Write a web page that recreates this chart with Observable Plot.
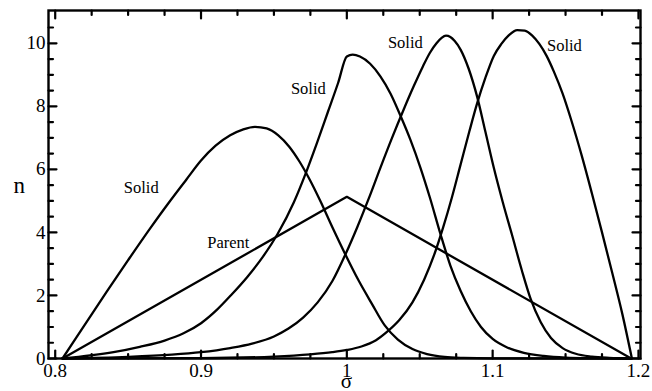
<!DOCTYPE html>
<html>
<head>
<meta charset="utf-8">
<script src="https://cdn.jsdelivr.net/npm/d3@7"></script>
<script src="https://cdn.jsdelivr.net/npm/@observablehq/plot@0.6"></script>
<style>
  html, body { margin: 0; padding: 0; background: #fff; }
</style>
</head>
<body>
<div id="chart"></div>
<script>
// ---- Data ----
const parentSigma = [0.805, 1.0, 1.195];
const parentN     = [0, 5.128, 0];

const solid1Sigma = [0.805,0.82,0.835,0.85,0.865,0.878,0.89,0.9,0.91,0.92,0.929,0.937,0.945,0.953,0.9605,0.9675,0.9745,0.982,0.99,0.999,1.008,1.017,1.026,1.035,1.045,1.055,1.067,1.08,1.1,1.195];
const solid1N     = [0,1.05,2.1,3.12,4.12,4.95,5.68,6.28,6.75,7.08,7.27,7.35,7.3,7.08,6.72,6.25,5.68,4.98,4.17,3.3,2.48,1.75,1.05,0.6,0.3,0.14,0.05,0.02,0.005,0];

const solid2Sigma = [0.805,0.84,0.858,0.875,0.888,0.9,0.911,0.921,0.9316,0.942,0.9525,0.9636,0.9716,0.9796,0.987,0.994,1.0,1.004,1.009,1.016,1.023,1.03,1.0368,1.0435,1.0505,1.057,1.0642,1.071,1.078,1.085,1.092,1.1,1.11,1.1214,1.135,1.15,1.17,1.195];
const solid2N     = [0,0.2,0.37,0.57,0.8,1.12,1.55,2.03,2.58,3.2,3.95,4.95,5.85,6.85,7.82,8.74,9.58,9.64,9.58,9.35,8.95,8.4,7.7,6.95,6.05,5.1,3.95,2.95,2.15,1.5,1.0,0.62,0.35,0.18,0.08,0.03,0.01,0];

const solid3Sigma = [0.805,0.85,0.88,0.9,0.92,0.935,0.95,0.96,0.97,0.98,0.99,0.999,1.007,1.015,1.023,1.031,1.039,1.046,1.052,1.057,1.0615,1.065,1.068,1.071,1.074,1.078,1.0835,1.0894,1.095,1.1008,1.107,1.1134,1.12,1.126,1.133,1.14,1.148,1.157,1.168,1.18,1.195];
const solid3N     = [0,0.05,0.12,0.2,0.33,0.47,0.7,0.95,1.3,1.78,2.45,3.3,4.15,5.07,6.05,7.0,7.9,8.65,9.25,9.7,10.0,10.17,10.24,10.2,10.07,9.8,9.2,8.3,7.2,6.05,4.95,3.9,2.8,1.9,1.15,0.65,0.33,0.15,0.06,0.02,0];

const solid4Sigma = [0.805,0.9,0.95,0.975,0.99,1.0,1.01,1.02,1.0277,1.036,1.045,1.053,1.06,1.066,1.072,1.078,1.084,1.0894,1.095,1.1008,1.106,1.111,1.1169,1.122,1.127,1.132,1.137,1.142,1.148,1.154,1.161,1.168,1.175,1.182,1.189,1.1955];
const solid4N     = [0,0.01,0.06,0.13,0.2,0.27,0.38,0.58,0.85,1.22,1.78,2.5,3.3,4.15,5.1,6.15,7.2,8.1,8.9,9.6,9.98,10.25,10.42,10.4,10.25,9.98,9.6,9.1,8.4,7.55,6.45,5.25,4.0,2.72,1.4,0];

const labelText  = ["Solid", "Parent", "Solid", "Solid", "Solid"];
const labelSigma = [0.859, 0.9187, 0.9736, 1.0401, 1.1492];
const labelN     = [5.42, 3.68, 8.56, 10.02, 9.93];

const xMajorTicks  = [0.8, 0.9, 1.0, 1.1, 1.2];
const xMajorLabels = ["0.8", "0.9", "1", "1.1", "1.2"];
const xMinorTicks  = [0.825,0.85,0.875,0.925,0.95,0.975,1.025,1.05,1.075,1.125,1.15,1.175];
const yMajorTicks  = [0, 2, 4, 6, 8, 10];
const yMajorLabels = ["0", "2", "4", "6", "8", "10"];
const yMinorTicks  = [0.5,1,1.5,2.5,3,3.5,4.5,5,5.5,6.5,7,7.5,8.5,9,9.5,10.5];

const xDomain = [0.7954, 1.2014];
const yDomain = [0, 11.04];

// ---- Layout ----
const W = 652, H = 391, mL = 48, mR = 12, mT = 10, mB = 33;
const frameW = W - mL - mR, frameH = H - mT - mB;
const majorLen = 8, minorLen = 4.5;
const pxX = (xDomain[1] - xDomain[0]) / frameW;
const pxY = (yDomain[1] - yDomain[0]) / frameH;

// ---- Build tables ----
const toRows = (name, xs, ys) => xs.map((s, i) => ({curve: name, sigma: s, n: ys[i]}));
const curves = [
  toRows("Parent", parentSigma, parentN),
  toRows("Solid 1", solid1Sigma, solid1N),
  toRows("Solid 2", solid2Sigma, solid2N),
  toRows("Solid 3", solid3Sigma, solid3N),
  toRows("Solid 4", solid4Sigma, solid4N)
];
const labels = labelText.map((t, i) => ({text: t, sigma: labelSigma[i], n: labelN[i]}));

// inward tick segments as two-point paths, one id per tick
const tickRows = [];
let tid = 0;
const seg = (xa, ya, xb, yb) => { tid++; tickRows.push({id: tid, x: xa, y: ya}, {id: tid, x: xb, y: yb}); };
for (const [list, len] of [[xMajorTicks, majorLen], [xMinorTicks, minorLen]]) {
  for (const t of list) {
    seg(t, yDomain[0], t, yDomain[0] + len * pxY);
    seg(t, yDomain[1], t, yDomain[1] - len * pxY);
  }
}
for (const [list, len] of [[yMajorTicks, majorLen], [yMinorTicks, minorLen]]) {
  for (const t of list) {
    seg(xDomain[0], t, xDomain[0] + len * pxX, t);
    seg(xDomain[1], t, xDomain[1] - len * pxX, t);
  }
}

const font = '"Liberation Serif", "Times New Roman", Times, serif';

const chart = Plot.plot({
  width: W,
  height: H,
  marginLeft: mL,
  marginRight: mR,
  marginTop: mT,
  marginBottom: mB,
  style: {fontFamily: font, fontSize: "19px"},
  x: {domain: xDomain, axis: null},
  y: {domain: yDomain, axis: null},
  marks: [
    ...curves.map((rows, k) => Plot.line(rows, {
      x: "sigma", y: "n",
      curve: k === 0 ? "linear" : "monotone-x",
      stroke: "black", strokeWidth: 2.3
    })),
    Plot.text(labels, {x: "sigma", y: "n", text: "text", fontSize: 16.5, fontFamily: font, fill: "black"}),
    Plot.line(tickRows, {x: "x", y: "y", z: "id", stroke: "black", strokeWidth: 2.2}),
    Plot.frame({stroke: "black", strokeWidth: 2.4}),
    Plot.axisX(xMajorTicks, {anchor: "bottom", tickSize: 0, tickPadding: 5, fill: "black",
      tickFormat: (d, i) => xMajorLabels[i], fontSize: 19, fontFamily: font, label: null}),
    Plot.axisY(yMajorTicks, {anchor: "left", tickSize: 0, tickPadding: 3, fill: "black",
      tickFormat: (d, i) => yMajorLabels[i], fontSize: 19, fontFamily: font, label: null}),
    Plot.text(["n"], {frameAnchor: "left", dx: -35, dy: 1, text: d => d, fontSize: 23, fontFamily: font, fill: "black"}),
    Plot.text(["σ"], {frameAnchor: "bottom", dx: 2, dy: 29, text: d => d, fontSize: 21, fontFamily: font, fill: "black"})
  ]
});

document.getElementById("chart").appendChild(chart);
</script>
</body>
</html>
